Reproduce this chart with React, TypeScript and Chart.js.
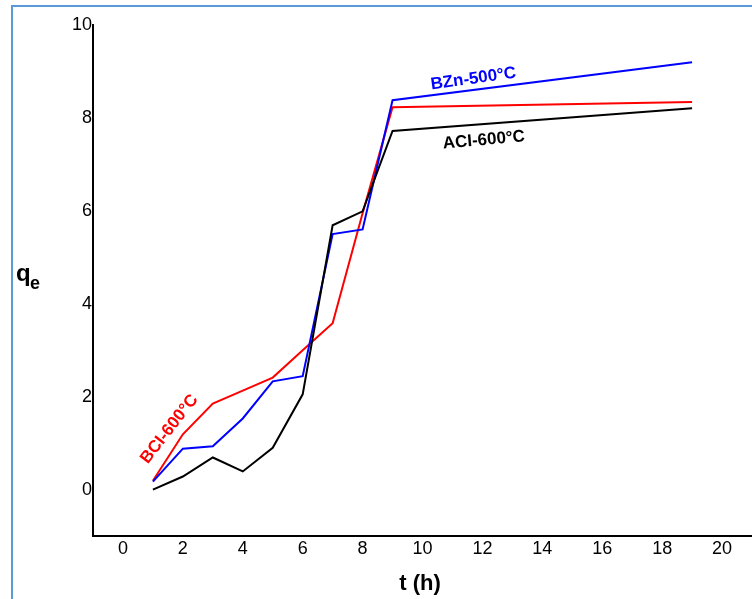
import React, { useEffect, useRef } from "react";
import { Chart, registerables } from "chart.js";

Chart.register(...registerables);

const tHours = [1, 2, 3, 4, 5, 6, 7, 8, 9, 19];
const aciValues = [0.0, 0.28, 0.69, 0.39, 0.9, 2.05, 5.69, 5.99, 7.72, 8.21];
const bznValues = [0.17, 0.88, 0.93, 1.53, 2.33, 2.44, 5.5, 5.6, 8.38, 9.2];
const bclValues = [0.19, 1.19, 1.85, 2.13, 2.41, 3.0, 3.58, 5.95, 8.23, 8.34];

const xTickValues = [0, 2, 4, 6, 8, 10, 12, 14, 16, 18, 20];
const yTickValues = [0, 2, 4, 6, 8, 10];

const seriesLabels = ["ACI-600°C", "BZn-500°C", "BCI-600°C"];
const seriesColors = ["#000000", "#0000ff", "#ff0000"];

const xTitle = "t (h)";
const yTitleMain = "q";
const yTitleSub = "e";

// annotation anchors in data coordinates [t, q, angleDeg]
const labelAnchors: [number, number, number][] = [
  [12.05, 7.52, -5],
  [11.7, 8.84, -8],
  [1.55, 1.3, -52],
];

const FONT = "'Liberation Sans', Arial, sans-serif";

const annotPlugin = {
  id: "annot",
  afterDatasetsDraw(chart: any) {
    const ctx = chart.ctx;
    const xs = chart.scales.x;
    const ys = chart.scales.y;
    ctx.save();
    labelAnchors.forEach(([t, q, ang], i) => {
      const px = xs.getPixelForValue(t);
      const py = ys.getPixelForValue(q);
      ctx.save();
      ctx.translate(px, py);
      ctx.rotate((ang * Math.PI) / 180);
      ctx.font = `bold 17px ${FONT}`;
      ctx.fillStyle = seriesColors[i];
      ctx.textAlign = "center";
      ctx.textBaseline = "middle";
      ctx.fillText(seriesLabels[i], 0, 0);
      ctx.restore();
    });
    // axis titles
    ctx.fillStyle = "#000";
    ctx.textBaseline = "alphabetic";
    ctx.textAlign = "center";
    ctx.font = `bold 22px ${FONT}`;
    ctx.fillText(xTitle, 420, 590);
    ctx.textAlign = "left";
    ctx.font = `bold 24px ${FONT}`;
    ctx.fillText(yTitleMain, 16, 281);
    ctx.font = `bold 18px ${FONT}`;
    ctx.fillText(yTitleSub, 30, 289);
    ctx.restore();
  },
};

export default function App() {
  const ref = useRef<HTMLCanvasElement>(null);
  useEffect(() => {
    if (!ref.current) return;
    const mk = (vals: number[]) => tHours.map((t, i) => ({ x: t, y: vals[i] }));
    const chart = new Chart(ref.current, {
      type: "line",
      data: {
        datasets: [
          { label: seriesLabels[0], data: mk(aciValues), borderColor: seriesColors[0], borderWidth: 2, pointRadius: 0, tension: 0 },
          { label: seriesLabels[1], data: mk(bznValues), borderColor: seriesColors[1], borderWidth: 2, pointRadius: 0, tension: 0 },
          { label: seriesLabels[2], data: mk(bclValues), borderColor: seriesColors[2], borderWidth: 2, pointRadius: 0, tension: 0 },
        ],
      },
      options: {
        animation: false,
        responsive: false,
        layout: { padding: { top: 25, left: 0, right: 0, bottom: 0 } },
        plugins: { legend: { display: false }, tooltip: { enabled: false } },
        scales: {
          x: {
            type: "linear",
            min: -1,
            max: 21,
            grid: { display: false, drawTicks: false },
            border: { display: true, color: "#000", width: 2 },
            afterBuildTicks: (s: any) => {
              s.ticks = xTickValues.map((v) => ({ value: v }));
            },
            afterFit: (s: any) => {
              s.height = 63;
            },
            ticks: { color: "#000", font: { family: FONT, size: 18 }, padding: 2, maxRotation: 0, autoSkip: false },
          },
          y: {
            type: "linear",
            min: -1,
            max: 10,
            grid: { display: false, drawTicks: false },
            border: { display: true, color: "#000", width: 2 },
            afterBuildTicks: (s: any) => {
              s.ticks = yTickValues.map((v) => ({ value: v }));
            },
            afterFit: (s: any) => {
              s.width = 93;
            },
            ticks: { color: "#000", font: { family: FONT, size: 18 }, padding: 1, autoSkip: false },
          },
        },
      },
      plugins: [annotPlugin],
    });
    return () => chart.destroy();
  }, []);
  return (
    <div style={{ position: "absolute", left: 0, top: 0, width: 752, height: 599, background: "#fff", overflow: "hidden" }}>
      <canvas ref={ref} width={752} height={599} style={{ position: "absolute", left: 0, top: 0 }} />
      <div style={{ position: "absolute", left: 11, top: 5, width: 741, height: 2, background: "#5b9bd5" }} />
      <div style={{ position: "absolute", left: 11, top: 5, width: 2, height: 594, background: "#5b9bd5" }} />
    </div>
  );
}
